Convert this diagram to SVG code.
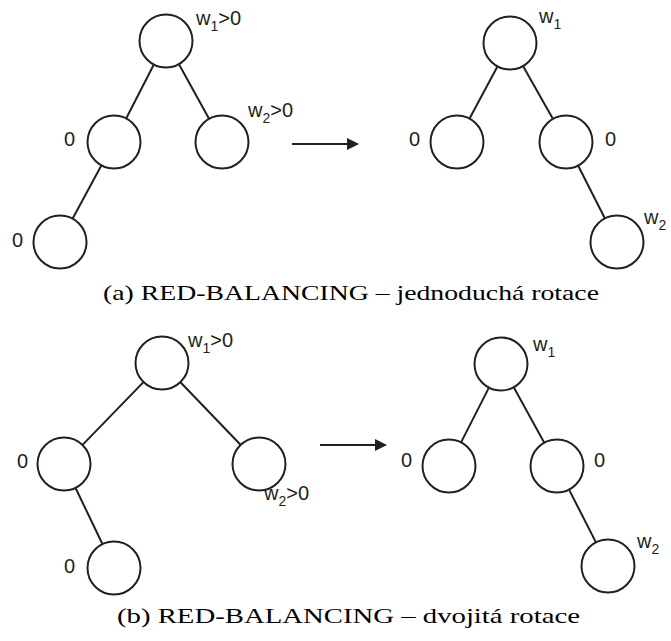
<svg xmlns="http://www.w3.org/2000/svg" width="671" height="641" viewBox="0 0 671 641">
<defs>
<style>
.n{fill:#fff;stroke:#231f20;stroke-width:2}
.e{stroke:#231f20;stroke-width:2;fill:none}
.l{font-family:"Liberation Sans",Arial,sans-serif;font-size:20px;fill:#231f20}
.s{font-size:14px}
.c{font-family:"Liberation Serif","Times New Roman",serif;font-size:21px;fill:#000}
</style>
<marker id="ah" markerUnits="userSpaceOnUse" markerWidth="12" markerHeight="12" refX="0" refY="6" orient="auto">
<path d="M0,0 L12,6 L0,12 z" fill="#231f20"/>
</marker>
</defs>
<rect width="671" height="641" fill="#fff"/>
<g id="connectors">
<line class="e" x1="153.6" y1="65" x2="126.4" y2="118"/>
<line class="e" x1="179.1" y1="64.6" x2="208.9" y2="118.4"/>
<line class="e" x1="101.2" y1="165.8" x2="72.8" y2="218.2"/>
<line class="e" x1="497.3" y1="66.8" x2="469.7" y2="118.2"/>
<line class="e" x1="523.3" y1="66.5" x2="552.7" y2="118.5"/>
<line class="e" x1="578.3" y1="166" x2="604.7" y2="218"/>
<line class="e" x1="143.2" y1="382.4" x2="82.8" y2="444.6"/>
<line class="e" x1="180.7" y1="382.5" x2="240.3" y2="444.5"/>
<line class="e" x1="75.7" y1="488.3" x2="102.3" y2="543.7"/>
<line class="e" x1="488.7" y1="388.1" x2="461.3" y2="441.9"/>
<line class="e" x1="514" y1="387.7" x2="544" y2="442.3"/>
<line class="e" x1="569.3" y1="490.1" x2="595.7" y2="541.9"/>
<line class="e" x1="292" y1="144" x2="347" y2="144" marker-end="url(#ah)"/>
<line class="e" x1="320" y1="445" x2="375" y2="445" marker-end="url(#ah)"/>
</g>
<g id="a-root"><circle class="n" cx="166" cy="41" r="26.5"/><text class="l" x="196" y="25">w<tspan class="s" dy="6">1</tspan><tspan dy="-6">&gt;0</tspan></text></g>
<g id="a-left"><circle class="n" cx="114" cy="142" r="26.5"/><text class="l" x="64" y="146">0</text></g>
<g id="a-right"><circle class="n" cx="222" cy="142" r="26.5"/><text class="l" x="248" y="117">w<tspan class="s" dy="6">2</tspan><tspan dy="-6">&gt;0</tspan></text></g>
<g id="a-leftleft"><circle class="n" cx="60" cy="242" r="26.5"/><text class="l" x="12" y="247">0</text></g>
<g id="a2-root"><circle class="n" cx="510" cy="43" r="26.5"/><text class="l" x="539" y="23">w<tspan class="s" dy="6">1</tspan></text></g>
<g id="a2-left"><circle class="n" cx="457" cy="142" r="26.5"/><text class="l" x="409" y="146">0</text></g>
<g id="a2-right"><circle class="n" cx="566" cy="142" r="26.5"/><text class="l" x="605" y="146">0</text></g>
<g id="a2-rightright"><circle class="n" cx="617" cy="242" r="26.5"/><text class="l" x="644" y="224">w<tspan class="s" dy="6">2</tspan></text></g>
<g id="b-root"><circle class="n" cx="162" cy="363" r="26.5"/><text class="l" x="188" y="347">w<tspan class="s" dy="6">1</tspan><tspan dy="-6">&gt;0</tspan></text></g>
<g id="b-left"><circle class="n" cx="64" cy="464" r="26.5"/><text class="l" x="17" y="468">0</text></g>
<g id="b-right"><circle class="n" cx="259" cy="464" r="26.5"/><text class="l" x="264" y="500">w<tspan class="s" dy="6">2</tspan><tspan dy="-6">&gt;0</tspan></text></g>
<g id="b-leftright"><circle class="n" cx="114" cy="568" r="26.5"/><text class="l" x="64" y="573">0</text></g>
<g id="b2-root"><circle class="n" cx="501" cy="364" r="26.5"/><text class="l" x="533" y="351">w<tspan class="s" dy="6">1</tspan></text></g>
<g id="b2-left"><circle class="n" cx="449" cy="466" r="26.5"/><text class="l" x="401" y="467">0</text></g>
<g id="b2-right"><circle class="n" cx="557" cy="466" r="26.5"/><text class="l" x="594" y="467">0</text></g>
<g id="b2-rightright"><circle class="n" cx="608" cy="566" r="26.5"/><text class="l" x="637" y="548">w<tspan class="s" dy="6">2</tspan></text></g>
<g id="captions">
<text class="c" x="103" y="300" textLength="496" lengthAdjust="spacingAndGlyphs">(a) RED-BALANCING – jednoduchá rotace</text>
<text class="c" x="117" y="623" textLength="463" lengthAdjust="spacingAndGlyphs">(b) RED-BALANCING – dvojitá rotace</text>
</g>
</svg>
